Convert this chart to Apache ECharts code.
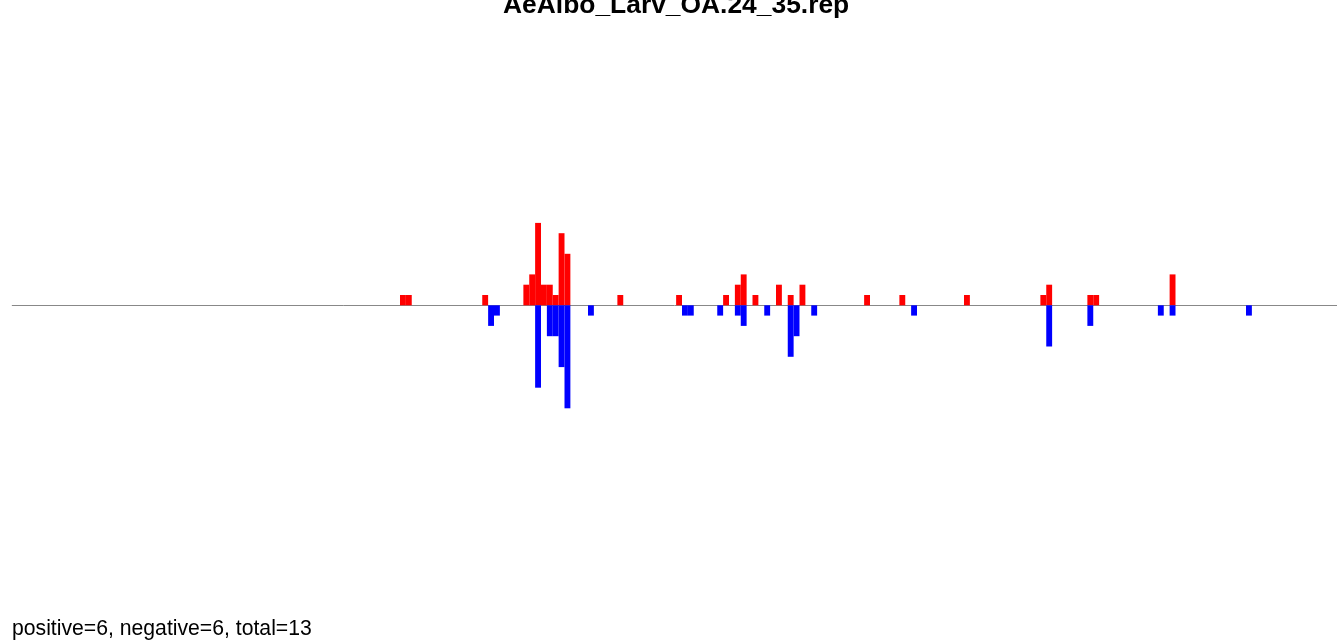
<!DOCTYPE html>
<html>
<head>
<meta charset="utf-8">
<script src="https://cdn.jsdelivr.net/npm/echarts@6/dist/echarts.min.js"></script>
<style>
html,body{margin:0;padding:0;background:#fff;}
#chart{width:1337px;height:641px;}
</style>
</head>
<body>
<div id="chart"></div>
<script>
const titleText = "AeAlbo_Larv_OA.24_35.rep";
const footerText = "positive=6, negative=6, total=13";
const posBins   = [66,67,80,87,88,89,90,91,92,93,94,103,113,121,123,124,126,130,132,134,145,151,162,175,176,183,184,197];
const posValues = [1,1,1,2,3,8,2,2,1,7,5,1,1,1,2,3,1,2,1,2,1,1,1,1,2,1,1,3];
const negBins   = [81,82,89,91,92,93,94,98,114,115,120,123,124,128,132,133,136,153,176,183,195,197,210];
const negValues = [-2,-1,-8,-3,-3,-6,-10,-1,-1,-1,-1,-1,-2,-1,-5,-3,-1,-1,-4,-2,-1,-1,-1];

const posData = posBins.map((b, i) => [b + 0.5, posValues[i]]);
const negData = negBins.map((b, i) => [b + 0.5, negValues[i]]);

const chart = echarts.init(document.getElementById('chart'), null, {renderer: 'canvas'});
const W = 1337;
const binW = 5.875;
const gridLeft = 12.25;
const unit = 10.3;
const zeroY = 305.3;
const yMax = 20;
const xMax = (W - gridLeft) / binW;
const plotCenter = gridLeft + 226 * binW / 2;
chart.setOption({
  animation: false,
  backgroundColor: '#ffffff',
  title: [{
    text: footerText,
    left: 12,
    top: 619,
    padding: 0,
    textStyle: {fontFamily: 'Liberation Sans, Arial', fontSize: 21.2, fontWeight: 'normal', color: '#000'}
  }],
  graphic: [{
    type: 'text',
    x: plotCenter,
    y: -7,
    style: {
      text: titleText,
      font: 'bold 26.4px "Liberation Sans", Arial',
      fill: '#000',
      textAlign: 'center',
      textVerticalAlign: 'top'
    }
  }],
  grid: {
    left: gridLeft,
    right: 0,
    top: zeroY - yMax * unit,
    height: 2 * yMax * unit,
    containLabel: false
  },
  xAxis: {
    type: 'value',
    min: 0,
    max: xMax,
    axisLine: {show: true, onZero: true, lineStyle: {color: '#888888', width: 1}},
    axisTick: {show: false},
    axisLabel: {show: false},
    splitLine: {show: false}
  },
  yAxis: {
    type: 'value',
    min: -yMax,
    max: yMax,
    show: false,
    splitLine: {show: false}
  },
  series: [
    {type: 'bar', data: posData, barWidth: binW, barGap: '-100%', itemStyle: {color: '#ff0000'}, z: 1},
    {type: 'bar', data: negData, barWidth: binW, barGap: '-100%', itemStyle: {color: '#0000ff'}, z: 1}
  ]
});
</script>
</body>
</html>
